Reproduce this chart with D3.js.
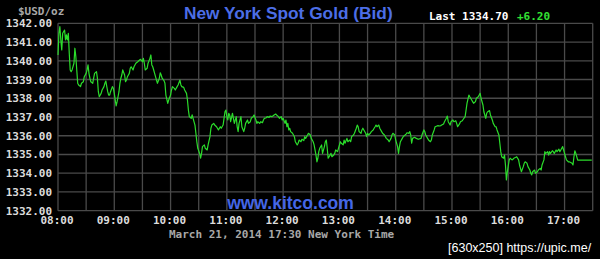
<!DOCTYPE html>
<html>
<head>
<meta charset="utf-8">
<script src="https://cdn.jsdelivr.net/npm/d3@7"></script>
<style>
  html, body { margin: 0; padding: 0; background: #000; }
  svg { display: block; }
</style>
</head>
<body>
<svg id="chart" width="600" height="259"></svg>
<script>
// ---- data ----
const title = "New York Spot Gold (Bid)";
const unitLabel = "$USD/oz";
const lastLabel = "Last 1334.70";
const changeLabel = "+6.20";
const dateLabel = "March 21, 2014 17:30 New York Time";
const watermark = "www.kitco.com";
const footer = "[630x250] https://upic.me/";

const xTickLabels = ["08:00","09:00","10:00","11:00","12:00","13:00","14:00","15:00","16:00","17:00"];
const yTicks = [1332,1333,1334,1335,1336,1337,1338,1339,1340,1341,1342];

// minutes after 08:00
const minutes = [0,1,2,3,4,5,7,8,9,10,11,12,13,14,15,17,18,19,20,21,22,24,25,27,28,30,31,32,33,34,35,37,38,39,41,42,43,44,46,47,49,50,51,52,53,54,55,56,58,59,60,61,62,63,64,65,66,67,68,69,71,72,73,74,76,77,78,80,81,83,85,87,88,90,91,92,93,95,96,98,99,
100,101,102,103,105,106,108,109,110,111,113,114,115,117,118,120,121,122,124,125,127,128,130,131,132,134,135,137,138,139,140,142,143,144,146,147,148,149,151,152,153,154,156,157,159,160,162,163,164,166,167,169,170,171,173,174,176,177,178,179,180,181,182,183,184,186,187,188,190,191,192,193,195,196,198,199,
200,202,203,205,206,208,209,211,212,213,215,216,218,219,220,222,223,225,226,228,229,230,232,233,235,236,238,239,240,242,243,244,245,246,247,248,250,252,253,255,256,257,259,260,262,263,264,266,267,269,270,272,273,274,275,276,277,278,279,281,282,284,285,286,287,288,289,291,292,294,295,296,298,299,
301,302,304,305,306,308,309,311,312,313,315,316,318,319,320,321,323,324,325,326,328,329,330,331,333,334,336,337,338,339,340,342,343,345,346,348,349,350,352,353,355,356,357,359,360,362,363,364,365,367,368,370,371,372,374,375,376,377,378,380,382,384,387,388,390,391,392,394,395,397,398,399,
401,402,404,405,407,408,409,411,412,414,415,416,418,419,421,422,424,425,426,428,429,431,432,434,435,436,438,439,441,442,443,445,446,448,450,451,453,454,456,457,458,460,461,463,464,466,467,468,470,471,472,473,475,476,477,478,479,481,482,484,485,486,488,489,491,492,493,494,496,497,498,
500,501,503,504,505,506,508,509,511,512,514,515,516,518,519,520,522,523,524,525,527,528,529,531,532,534,535,537,538,539,540,541,542,544,545,547,548,549,550,551,552,553,554,569];

const prices = [1340.31,1341.47,1341.82,1341.11,1340.58,1341.47,1341.64,1341.11,1341.38,1341.11,1341.47,1340.40,1339.51,1339.42,1339.51,1339.87,1340.67,1340.22,1339.51,1338.80,1338.71,1338.62,1338.80,1338.88,1339.15,1339.33,1339.51,1339.78,1339.33,1339.07,1338.88,1338.80,1339.07,1339.33,1339.42,1339.07,1338.35,1338.08,1338.26,1338.44,1338.62,1338.80,1338.92,1338.62,1338.35,1338.17,1338.17,1338.35,1338.62,1338.53,1338.26,1337.91,1337.59,1337.82,1338.08,1338.35,1338.80,1339.07,1339.24,1339.51,1339.24,1338.88,1338.97,1339.15,1339.33,1339.60,1339.68,1339.51,1339.68,1339.87,1339.95,1340.04,1340.08,1339.95,1340.13,1339.87,1339.51,1339.60,1339.87,1340.13,1340.31,
1339.78,1339.68,1339.51,1339.33,1338.97,1338.80,1339.07,1339.36,1339.24,1339.07,1338.94,1338.80,1338.17,1337.73,1337.91,1338.17,1338.44,1338.62,1338.53,1338.44,1338.62,1338.71,1338.97,1338.71,1338.62,1338.58,1338.44,1338.26,1337.91,1337.37,1337.02,1336.93,1337.11,1336.93,1336.57,1336.13,1335.68,1335.33,1335.06,1334.80,1335.06,1335.42,1335.51,1335.33,1335.24,1335.51,1335.95,1336.40,1336.57,1336.66,1336.57,1336.48,1336.40,1336.31,1336.48,1336.40,1336.57,1336.93,1337.28,1337.37,1337.02,1336.84,1337.20,1337.11,1336.75,1337.20,1336.93,1336.66,1337.02,1336.48,1336.22,1336.66,1337.02,1336.48,1336.22,1336.40,
1336.66,1336.84,1336.66,1336.75,1336.93,1337.02,1337.11,1336.84,1336.66,1336.75,1336.66,1336.75,1336.70,1336.84,1336.93,1336.96,1337.02,1336.98,1337.05,1337.02,1337.05,1337.09,1337.16,1337.11,1337.02,1336.93,1337.02,1336.84,1336.93,1336.66,1336.84,1336.48,1336.66,1336.31,1336.40,1336.22,1336.13,1335.95,1335.68,1335.51,1335.60,1335.77,1335.68,1335.81,1335.74,1335.95,1335.86,1336.04,1336.13,1336.04,1335.86,1335.68,1335.51,1335.24,1334.97,1334.61,1334.80,1335.15,1335.33,1335.51,1335.06,1335.42,1335.68,1335.77,1335.33,1334.80,1334.88,1335.06,1334.88,1334.97,1335.06,1335.24,1335.15,1335.33,
1335.68,1335.60,1335.51,1335.77,1335.60,1335.86,1335.68,1335.77,1335.68,1335.95,1336.04,1336.13,1336.40,1336.57,1336.48,1336.22,1336.13,1336.31,1336.40,1336.31,1336.13,1335.95,1336.13,1336.04,1336.13,1336.22,1336.31,1336.40,1336.48,1336.57,1336.48,1336.57,1336.40,1336.22,1336.13,1336.04,1335.95,1335.86,1335.77,1335.68,1335.86,1336.04,1336.13,1336.04,1335.77,1335.42,1335.06,1335.42,1335.68,1335.86,1335.95,1336.04,1336.09,1336.16,1336.13,1336.22,1336.04,1335.60,1335.86,1335.92,1335.86,1335.81,1335.86,1336.04,1336.31,1336.22,1336.04,1335.86,1335.77,1335.68,1335.77,1336.04,
1336.31,1336.48,1336.52,1336.54,1336.52,1336.54,1336.57,1336.63,1336.75,1336.93,1337.05,1336.75,1336.57,1336.75,1336.84,1336.75,1336.80,1336.66,1336.48,1336.63,1336.75,1336.80,1336.88,1337.02,1337.37,1337.73,1338.17,1338.08,1337.91,1337.82,1337.73,1337.82,1338.00,1338.08,1338.26,1338.00,1337.64,1337.28,1336.93,1337.20,1337.28,1337.34,1337.11,1336.84,1336.66,1336.48,1336.48,1336.31,1336.04,1335.60,1335.15,1334.88,1334.80,1334.97,1334.44,1333.64,1334.08,1334.71,1334.80,1334.71,1334.74,1334.80,1334.85,1334.88,1334.71,1334.44,1334.26,1334.08,1334.35,1334.53,1334.61,
1334.53,1334.35,1334.17,1334.00,1333.91,1334.08,1334.17,1334.00,1334.08,1334.17,1334.26,1334.17,1334.44,1334.71,1335.15,1335.06,1335.15,1334.97,1335.15,1335.06,1335.20,1335.15,1335.06,1335.24,1335.15,1335.28,1335.15,1335.33,1335.42,1335.24,1335.06,1334.88,1334.71,1334.61,1334.61,1334.56,1334.53,1334.44,1334.88,1335.20,1335.06,1334.88,1334.70,1334.70];

// ---- drawing ----
const svg = d3.select("#chart");
const plotLeft = 58, plotRight = 592.7, plotTop = 23.3, plotBottom = 210.7;

const x = d3.scaleLinear().domain([0, 570]).range([plotLeft, plotRight]);
const y = d3.scaleLinear().domain([1332, 1342]).range([plotBottom, plotTop]);

const gridColor = "#4a4a4a";
const mono = "'DejaVu Sans Mono', monospace";

// vertical grid every 30 minutes
const vTicks = d3.range(0, 571, 30);
svg.append("g").selectAll("line").data(vTicks).join("line")
  .attr("x1", d => x(d)).attr("x2", d => x(d))
  .attr("y1", plotTop).attr("y2", plotBottom)
  .attr("stroke", gridColor).attr("stroke-width", 1.3);

svg.append("g").selectAll("line").data(yTicks).join("line")
  .attr("x1", plotLeft).attr("x2", plotRight)
  .attr("y1", d => y(d)).attr("y2", d => y(d))
  .attr("stroke", gridColor).attr("stroke-width", 1.3);

// y labels
svg.append("g").selectAll("text").data(yTicks).join("text")
  .attr("x", 52).attr("y", d => y(d) + 4)
  .attr("text-anchor", "end")
  .attr("fill", "#dcdcdc")
  .attr("font-family", mono).attr("font-weight", "bold").attr("font-size", 11)
  .text(d => d.toFixed(2));

// x labels
svg.append("g").selectAll("text").data(xTickLabels).join("text")
  .attr("x", (d, i) => x(i * 60) - 1).attr("y", 224)
  .attr("text-anchor", "middle")
  .attr("fill", "#dcdcdc")
  .attr("font-family", mono).attr("font-weight", "bold").attr("font-size", 11)
  .text(d => d);

// watermark
svg.append("text")
  .attr("x", 290.5).attr("y", 209)
  .attr("text-anchor", "middle")
  .attr("fill", "#4466e6")
  .attr("font-family", "'Liberation Sans', Arial, sans-serif")
  .attr("font-weight", "bold").attr("font-size", 17.5)
  .text(watermark);

// price line
const data = minutes.map((m, i) => ({ m, p: prices[i] }));
const line = d3.line().x(d => x(d.m)).y(d => y(d.p));
svg.append("path").datum(data)
  .attr("d", line)
  .attr("fill", "none")
  .attr("stroke", "#2bdc2b")
  .attr("stroke-width", 1.2)
  .attr("stroke-linejoin", "round");

// header texts
svg.append("text")
  .attr("x", 18).attr("y", 15)
  .attr("fill", "#a8a8a8")
  .attr("font-family", mono).attr("font-weight", "bold").attr("font-size", 11)
  .text(unitLabel);

svg.append("text")
  .attr("x", 184).attr("y", 18.5)
  .attr("fill", "#4c6ee6")
  .attr("font-family", "'Liberation Sans', Arial, sans-serif")
  .attr("font-weight", "bold").attr("font-size", 17.3)
  .text(title);

svg.append("text")
  .attr("x", 429).attr("y", 20)
  .attr("fill", "#ffffff")
  .attr("font-family", mono).attr("font-weight", "bold").attr("font-size", 11)
  .text(lastLabel);

svg.append("text")
  .attr("x", 517).attr("y", 20)
  .attr("fill", "#33e033")
  .attr("font-family", mono).attr("font-weight", "bold").attr("font-size", 11)
  .text(changeLabel);

svg.append("text")
  .attr("x", 169).attr("y", 237.5)
  .attr("fill", "#a8a8a8")
  .attr("font-family", mono).attr("font-weight", "bold").attr("font-size", 11)
  .text(dateLabel);

svg.append("text")
  .attr("x", 448).attr("y", 252)
  .attr("fill", "#ffffff")
  .attr("font-family", "'Liberation Sans', Arial, sans-serif")
  .attr("font-size", 12.5)
  .text(footer);
</script>
</body>
</html>
